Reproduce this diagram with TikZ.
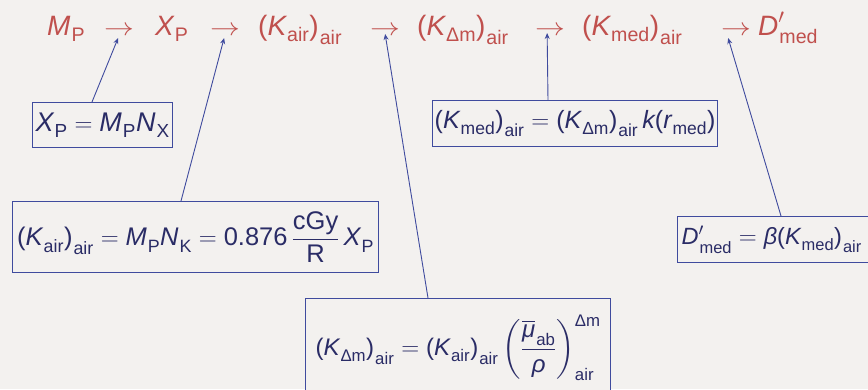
\documentclass[tikz,border=0pt]{standalone}
\usepackage{fontspec}
\usepackage{amsmath}
\usepackage{graphicx}
\setmainfont{Liberation Sans}
\usetikzlibrary{arrows.meta,calc}
\newcommand\mi[1]{\textit{#1}}
\newcommand\tx[1]{\text{#1}}
\newcommand\lp{\text{(}}
\newcommand\rp{\text{)}}
\newcommand\sbb[1]{_{\lower2.5pt\hbox{$\scriptstyle\kern1pt\text{#1}$}}}
\newcommand\rarr{\scalebox{1.2}[1]{$\rightarrow$}}
\definecolor{redt}{HTML}{C0504D}
\definecolor{bluel}{HTML}{3F4B9E}
\definecolor{navyt}{HTML}{2A2C66}
\definecolor{bgc}{HTML}{F3F1EF}
\tikzset{
  toptext/.style={text=redt, inner sep=0pt, font=\fontsize{28}{32}\selectfont},
  eqbox/.style={draw=bluel, line width=1.2pt, text=navyt, fill=bgc, inner sep=0pt, anchor=north west},
  conn/.style={draw=bluel, line width=0.9pt, -{Stealth[length=6pt,width=5pt]}}
}
\begin{document}
\begin{tikzpicture}[x=1pt,y=-1pt]
\fill[bgc] (0,0) rectangle (868,389);
\useasboundingbox (0,0) rectangle (868,389);
\clip (0,0) rectangle (868,389);

% top row
\node[toptext, anchor=base west] (mp) at (47,35) {$\mi{M}\sbb{P}$};
\node[toptext, anchor=base west] (a1) at (104,35) {\rarr};
\node[toptext, anchor=base west] (xp) at (155,35) {$\mi{X}\sbb{P}$};
\node[toptext, anchor=base west] (a2) at (210,35) {\rarr};
\node[toptext, anchor=base west] (kair) at (258,35) {$\lp\mi{K}\sbb{air}\rp\sbb{air}$};
\node[toptext, anchor=base west] (a3) at (370,35) {\rarr};
\node[toptext, anchor=base west] (kdm) at (417,35) {$\lp\mi{K}\sbb{Δm}\rp\sbb{air}$};
\node[toptext, anchor=base west] (a4) at (535,35) {\rarr};
\node[toptext, anchor=base west] (kmed) at (582,35) {$\lp\mi{K}\sbb{med}\rp\sbb{air}$};
\node[toptext, anchor=base west] (a5) at (721,35) {\rarr};
\node[toptext, anchor=base west] (dmed) at (758,35) {$\mi{D}'\sbb{med}$};

% boxes
\node[eqbox, minimum width=140pt, minimum height=45pt, font=\fontsize{27}{30}\selectfont] (b1) at (32,102)
  {$\mi{X}\sbb{P} = \mi{M}\sbb{P}\mi{N}\sbb{X}$};
\node[eqbox, minimum width=366pt, minimum height=71pt, font=\fontsize{25.5}{28}\selectfont] (b2) at (12,201)
  {$\lp\mi{K}\sbb{air}\rp\sbb{air} = \mi{M}\sbb{P}\mi{N}\sbb{K} = \tx{0.876}\,\dfrac{\tx{cGy}}{\tx{R}}\,\mi{X}\sbb{P}$};
\node[eqbox, minimum width=305pt, minimum height=98pt, font=\fontsize{24}{28}\selectfont] (b3) at (305,298)
  {\raisebox{5pt}{$\lp\mi{K}\sbb{Δm}\rp\sbb{air} = \lp\mi{K}\sbb{air}\rp\sbb{air}\left(\dfrac{\overline{\mi{μ}}\sbb{ab}}{\mi{ρ}}\right)^{\tx{Δm}}_{\tx{air}}$}};
\node[eqbox, minimum width=285pt, minimum height=46pt, font=\fontsize{25}{30}\selectfont] (b4) at (432,100)
  {$\lp\mi{K}\sbb{med}\rp\sbb{air} = \lp\mi{K}\sbb{Δm}\rp\sbb{air}\,\mi{k}\lp\mi{r}\sbb{med}\rp$};
\node[eqbox, minimum width=200pt, minimum height=46pt, inner xsep=4pt, font=\fontsize{23.5}{28}\selectfont] (b5) at (677,216)
  {\makebox[192pt][l]{$\mi{D}'\sbb{med} = \mi{β}\lp\mi{K}\sbb{med}\rp\sbb{air}$}};

% connectors
\coordinate (t1) at ($(a1.base)+(-1,3)$);
\coordinate (t2) at ($(a2.base)+(-1,3)$);
\coordinate (t3) at ($(a3.base)+(0,-1)$);
\coordinate (t4) at ($(a4.base)+(-3,-2)$);
\coordinate (t5) at ($(a5.base)+(-8,3)$);
\draw[conn] ($(b1.north west)+(60,0)$) -- (t1);
\draw[conn] ($(b2.north west)+(169,0)$) -- (t2);
\draw[conn] ($(b3.north west)+(123,0)$) -- (t3);
\draw[conn] ($(b4.north west)+(116,0)$) -- (t4);
\draw[conn] ($(b5.north west)+(104,0)$) -- (t5);
\end{tikzpicture}
\end{document}
